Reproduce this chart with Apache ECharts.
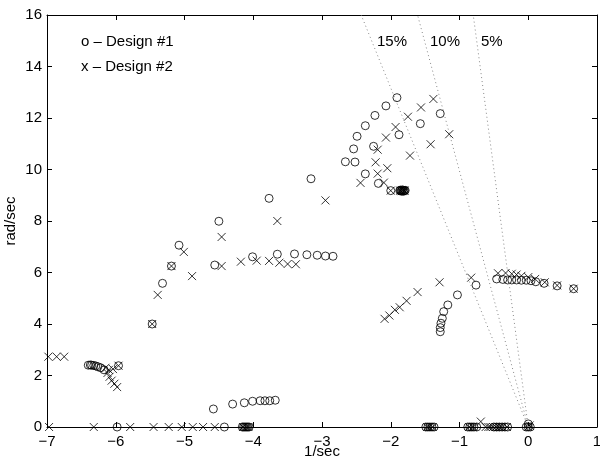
<!DOCTYPE html>
<html>
<head>
<meta charset="utf-8">
<script src="https://cdn.jsdelivr.net/npm/echarts@6/dist/echarts.min.js"></script>
<style>html,body{margin:0;padding:0;background:#fff}#c{width:600px;height:460px}</style>
</head>
<body>
<div id="c"></div>
<script>
// Axis ticks
var xTicks = [-7, -6, -5, -4, -3, -2, -1, 0, 1];
var yTicks = [0, 2, 4, 6, 8, 10, 12, 14, 16];
var xName = '1/sec';
var yName = 'rad/sec';

// Design #1 (circles): [real part 1/sec, imaginary part rad/sec]
var design1 = [
  [-1.91,12.79],[-2.07,12.47],[-2.23,12.10],[-2.37,11.70],[-2.49,11.29],[-2.54,10.80],
  [-2.66,10.30],[-2.52,10.29],[-2.37,9.83],[-2.18,9.46],[-2.25,10.90],[-1.88,11.35],
  [-1.57,11.78],[-1.28,12.17],[-3.16,9.64],[-3.77,8.88],[-2.00,9.18],
  [-1.87,9.18],[-1.86,9.20],[-1.85,9.16],[-1.84,9.18],[-1.83,9.21],[-1.82,9.15],[-1.81,9.18],[-1.80,9.18],[-1.79,9.19],
  [-4.50,7.99],[-5.08,7.06],[-5.19,6.25],[-4.56,6.29],[-5.32,5.58],[-5.47,4.00],
  [-4.01,6.61],[-3.65,6.71],[-3.40,6.72],[-3.22,6.69],[-3.07,6.67],[-2.95,6.64],[-2.84,6.63],
  [-0.76,5.51],[-1.03,5.13],[-1.17,4.74],[-1.23,4.48],[-1.25,4.22],[-1.27,4.03],[-1.28,3.86],[-1.28,3.70],
  [-0.46,5.75],[-0.37,5.73],[-0.30,5.71],[-0.24,5.71],[-0.17,5.71],[-0.10,5.70],[-0.03,5.70],
  [0.04,5.68],[0.11,5.64],[0.23,5.58],[0.42,5.48],[0.66,5.37],
  [-6.40,2.40],[-6.37,2.41],[-6.35,2.40],[-6.32,2.39],[-6.29,2.37],[-6.26,2.34],[-6.22,2.30],[-6.17,2.22],[-5.96,2.38],
  [-4.58,0.70],[-4.30,0.89],[-4.13,0.94],[-4.01,1.00],[-3.90,1.02],[-3.83,1.02],[-3.76,1.02],[-3.68,1.04],
  [-5.98,0],[-4.42,0],[-4.16,0],[-4.14,0],[-4.12,0],[-4.10,0],[-4.08,0],[-4.06,0],
  [-1.49,0],[-1.46,0],[-1.43,0],[-1.40,0],[-1.37,0],
  [-0.88,0],[-0.85,0],[-0.82,0],[-0.79,0],[-0.75,0],[-0.50,0],[-0.46,0],[-0.42,0],[-0.38,0],[-0.34,0],[-0.30,0],
  [-0.03,0],[0.0,0],[0.03,0],[0.0,0.12]
];

// Design #2 (crosses)
var design2 = [
  [-1.38,12.74],[-1.56,12.41],[-1.75,12.05],[-1.93,11.65],[-2.07,11.24],[-2.19,10.77],
  [-2.22,10.28],[-2.05,10.05],[-2.19,9.84],[-2.44,9.48],[-2.10,9.49],[-1.72,10.54],
  [-1.42,10.98],[-1.15,11.37],[-2.95,8.80],[-2.00,9.18],
  [-1.86,9.18],[-1.84,9.16],[-1.83,9.20],[-1.81,9.18],[-1.80,9.18],
  [-4.46,7.38],[-5.01,6.80],[-5.19,6.25],[-4.46,6.25],[-4.89,5.86],[-5.39,5.13],[-5.47,4.00],[-3.65,8.00],
  [-4.18,6.42],[-3.95,6.46],[-3.77,6.45],[-3.62,6.38],[-3.50,6.33],[-3.38,6.32],
  [-2.09,4.20],[-2.02,4.33],[-1.94,4.55],[-1.87,4.65],[-1.77,4.90],[-1.61,5.24],[-1.29,5.62],[-0.83,5.80],
  [-0.44,5.97],[-0.33,5.98],[-0.24,5.95],[-0.17,5.92],[-0.10,5.87],[0.0,5.82],[0.10,5.75],[0.24,5.62],[0.42,5.50],[0.66,5.37],
  [-6.98,2.73],[-6.86,2.73],[-6.75,2.73],
  [-6.15,2.30],[-6.10,2.22],[-6.04,2.25],[-6.12,2.10],[-6.09,1.95],[-6.06,1.80],[-6.02,1.68],[-5.98,1.55],[-5.96,2.38],
  [-6.97,0],[-6.32,0],[-5.79,0],[-5.45,0],[-5.23,0],[-5.04,0],[-4.88,0],[-4.73,0],[-4.56,0],
  [-4.15,0],[-4.11,0],[-4.07,0],
  [-1.47,0],[-1.44,0],[-1.39,0],
  [-0.86,0],[-0.80,0],[-0.69,0.21],[-0.62,0],[-0.58,0],[-0.55,0],[-0.51,0],[-0.47,0],[-0.43,0],[-0.39,0],[-0.31,0],
  [0.0,0],[0.02,0.06]
];

// Constant damping-ratio lines (15%, 10%, 5%), from origin to top of plot
var damp15 = [[0,0],[-2.43,16]];
var damp10 = [[0,0],[-1.61,16]];
var damp5  = [[0,0],[-0.80,16]];
var dampLabels = ['15%', '10%', '5%'];
var legendTexts = ['o \u2013 Design #1', 'x \u2013 Design #2'];

var FONT = 'Liberation Sans, Arial, Helvetica, sans-serif';
var FS = 15;
var chart = echarts.init(document.getElementById('c'), null, {renderer: 'canvas'});
function fmt(v){ return String(v).replace('-', '\u2212'); }
var axisCommon = {
  type: 'value',
  axisLine: {show: true, onZero: false, lineStyle: {color: '#000', width: 1}},
  axisTick: {show: true, inside: true, length: 5, lineStyle: {color: '#000'}},
  splitLine: {show: false}
};
var dotted = {color: '#888', width: 1, type: [1, 3]};
var txt = {fill: '#000', font: FS + 'px ' + FONT};
chart.setOption({
  animation: false,
  backgroundColor: '#fff',
  grid: {left: 47, right: 3, top: 15, bottom: 33, containLabel: false, outerBoundsMode: 'none'},
  xAxis: [
    Object.assign({}, axisCommon, {
      min: xTicks[0], max: xTicks[xTicks.length-1], interval: 1, position: 'bottom',
      axisLabel: {color: '#000', fontSize: FS, fontFamily: FONT, margin: 7, formatter: fmt,
                  showMinLabel: true, showMaxLabel: true}
    }),
    Object.assign({}, axisCommon, {
      min: xTicks[0], max: xTicks[xTicks.length-1], interval: 1, position: 'top',
      axisLabel: {show: false}
    })
  ],
  yAxis: [
    Object.assign({}, axisCommon, {
      min: yTicks[0], max: yTicks[yTicks.length-1], interval: 2, position: 'left',
      axisLabel: {color: '#000', fontSize: FS, fontFamily: FONT, margin: 5,
                  showMinLabel: true, showMaxLabel: true}
    }),
    Object.assign({}, axisCommon, {
      min: yTicks[0], max: yTicks[yTicks.length-1], interval: 2, position: 'right',
      axisLabel: {show: false}
    })
  ],
  series: [
    {type: 'line', data: damp15, symbol: 'none', lineStyle: dotted, silent: true},
    {type: 'line', data: damp10, symbol: 'none', lineStyle: dotted, silent: true},
    {type: 'line', data: damp5, symbol: 'none', lineStyle: dotted, silent: true},
    {type: 'scatter', name: 'Design #1', data: design1, symbol: 'circle', symbolSize: 8,
     itemStyle: {color: 'rgba(0,0,0,0)', borderColor: '#000', borderWidth: 1}},
    {type: 'scatter', name: 'Design #2', data: design2, symbol: 'path://M0,0L10,10M10,0L0,10', symbolSize: 8,
     itemStyle: {color: 'rgba(0,0,0,0)', borderColor: '#000', borderWidth: 1}}
  ],
  graphic: [
    {type: 'text', x: 322, y: 452, style: Object.assign({text: xName, align: 'center', verticalAlign: 'middle'}, txt)},
    {type: 'text', x: 11, y: 221, rotation: Math.PI / 2, style: Object.assign({text: yName, align: 'center', verticalAlign: 'middle'}, txt)},
    {type: 'text', left: 81, top: 34, style: Object.assign({text: legendTexts[0]}, txt)},
    {type: 'text', left: 81, top: 59, style: Object.assign({text: legendTexts[1]}, txt)},
    {type: 'text', left: 377, top: 34, style: Object.assign({text: dampLabels[0]}, txt)},
    {type: 'text', left: 430, top: 34, style: Object.assign({text: dampLabels[1]}, txt)},
    {type: 'text', left: 481, top: 34, style: Object.assign({text: dampLabels[2]}, txt)}
  ]
});
</script>
</body>
</html>
